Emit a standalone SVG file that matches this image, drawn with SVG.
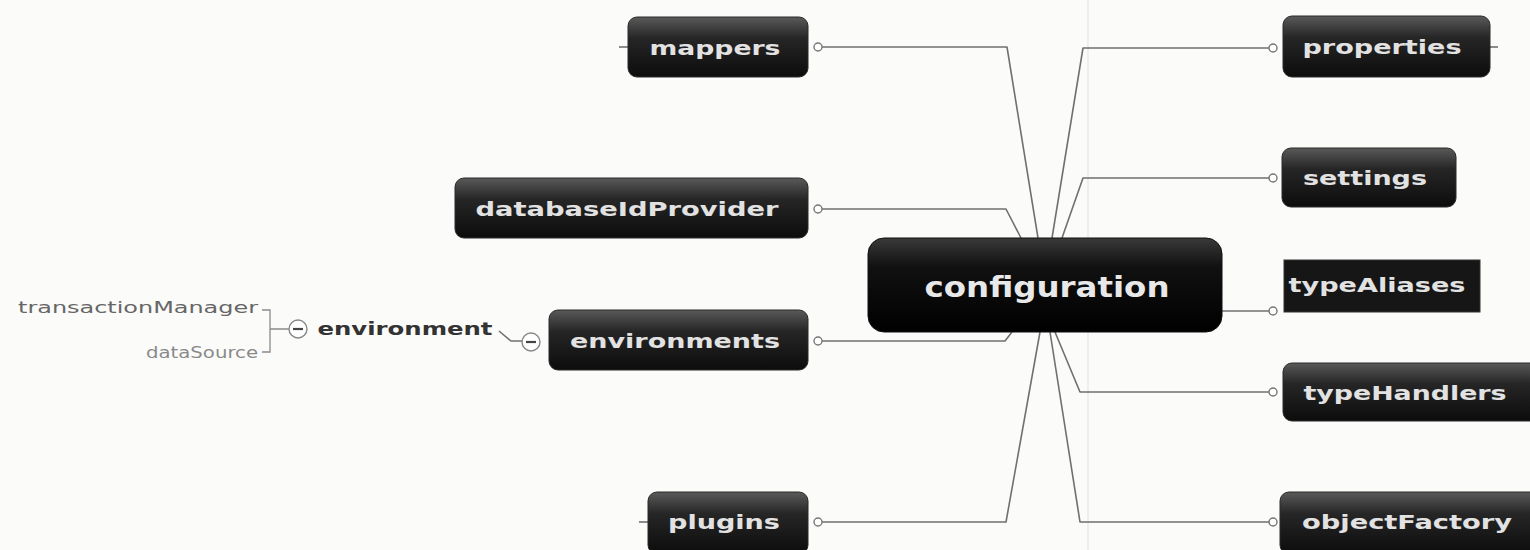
<svg xmlns="http://www.w3.org/2000/svg" width="1530" height="550" viewBox="0 0 1530 550">
  <defs>
    <linearGradient id="nodeFill" x1="0" y1="0" x2="0" y2="1">
      <stop offset="0" stop-color="#5a5a5a"/>
      <stop offset="0.35" stop-color="#262626"/>
      <stop offset="1" stop-color="#0c0c0c"/>
    </linearGradient>
    <linearGradient id="rootFill" x1="0" y1="0" x2="0" y2="1">
      <stop offset="0" stop-color="#3a3a3a"/>
      <stop offset="0.3" stop-color="#111"/>
      <stop offset="1" stop-color="#000"/>
    </linearGradient>
    <filter id="soft" x="-5%" y="-10%" width="110%" height="120%">
      <feGaussianBlur stdDeviation="0.8"/>
    </filter>
  </defs>
  <style>
    .box { fill: url(#nodeFill); stroke: #2a2a2a; stroke-width: 1; }
    .root { fill: url(#rootFill); stroke: #111; stroke-width: 1; }
    .label { font-family: "DejaVu Sans", Verdana, sans-serif; font-weight: bold; font-size: 20px; fill: #e2e2e2; text-anchor: middle; dominant-baseline: central; }
    .rootLabel { font-family: "DejaVu Sans", Verdana, sans-serif; font-weight: bold; font-size: 28px; fill: #e8e8e8; text-anchor: middle; dominant-baseline: central; }
    .link { fill: none; stroke: #707070; stroke-width: 1.6; stroke-linejoin: round; }
    .end { fill: #fff; stroke: #777; stroke-width: 1.4; }
    .fold { fill: #fff; stroke: #888; stroke-width: 1.4; }
    .minus { stroke: #444; stroke-width: 2.2; }
    .sub { font-family: "DejaVu Sans", Verdana, sans-serif; font-size: 16px; dominant-baseline: central; text-anchor: end; }
  </style>

  <!-- page background -->
  <rect width="1530" height="550" fill="#fbfbfa"/>
  <line x1="1088" y1="0" x2="1088" y2="550" stroke="#e6e6e6" stroke-width="1.2"/>

  <!-- branch connectors -->
  <g id="connectors">
    <path class="link" d="M822,47 H1007 L1038,238"/>
    <path class="link" d="M822,209 H1006 L1021,238"/>
    <path class="link" d="M822,341 H1005 L1012,332"/>
    <path class="link" d="M822,522 H1006 L1040,332"/>
    <path class="link" d="M1269,48 H1083 L1052,238"/>
    <path class="link" d="M1269,178 H1083 L1062,238"/>
    <path class="link" d="M1215,311 H1269"/>
    <path class="link" d="M1269,392 H1080 L1055,332"/>
    <path class="link" d="M1269,522 H1080 L1050,332"/>
    <!-- stubs of collapsed branches -->
    <path class="link" d="M619,47 H628"/>
    <path class="link" d="M639,522 H648"/>
    <path class="link" d="M1490,47 H1498"/>
    <!-- end points -->
    <circle class="end" cx="818" cy="47" r="4"/>
    <circle class="end" cx="818" cy="209" r="4"/>
    <circle class="end" cx="818" cy="341" r="4"/>
    <circle class="end" cx="818" cy="522" r="4"/>
    <circle class="end" cx="1273" cy="48" r="4"/>
    <circle class="end" cx="1273" cy="178" r="4"/>
    <circle class="end" cx="1273" cy="311" r="4"/>
    <circle class="end" cx="1273" cy="392" r="4"/>
    <circle class="end" cx="1273" cy="522" r="4"/>
  </g>

  <!-- central topic -->
  <g id="configuration">
    <rect class="root" x="868" y="238" width="354" height="94" rx="16"/>
    <text class="rootLabel" x="1047" y="287" textLength="245" lengthAdjust="spacingAndGlyphs">configuration</text>
  </g>

  <!-- left branches -->
  <g id="mappers">
    <rect class="box" x="628" y="17" width="180" height="60" rx="9"/>
    <text class="label" x="715" y="48" textLength="131" lengthAdjust="spacingAndGlyphs">mappers</text>
  </g>
  <g id="databaseIdProvider">
    <rect class="box" x="455" y="178" width="353" height="60" rx="9"/>
    <text class="label" x="627" y="209" textLength="303" lengthAdjust="spacingAndGlyphs">databaseIdProvider</text>
  </g>
  <g id="environments">
    <rect class="box" x="549" y="310" width="259" height="60" rx="9"/>
    <text class="label" x="675" y="341" textLength="210" lengthAdjust="spacingAndGlyphs">environments</text>
  </g>
  <g id="plugins">
    <rect class="box" x="648" y="492" width="160" height="62" rx="9"/>
    <text class="label" x="724" y="522" textLength="112" lengthAdjust="spacingAndGlyphs">plugins</text>
  </g>

  <!-- right branches -->
  <g id="properties">
    <rect class="box" x="1283" y="16" width="207" height="61" rx="9"/>
    <text class="label" x="1382" y="47" textLength="159" lengthAdjust="spacingAndGlyphs">properties</text>
  </g>
  <g id="settings">
    <rect class="box" x="1282" y="148" width="174" height="59" rx="9"/>
    <text class="label" x="1365" y="178" textLength="124" lengthAdjust="spacingAndGlyphs">settings</text>
  </g>
  <g id="typeAliases">
    <rect x="1284" y="260" width="196" height="52" fill="#161616" stroke="#333" stroke-width="1"/>
    <text class="label" x="1377" y="285" textLength="177" lengthAdjust="spacingAndGlyphs">typeAliases</text>
  </g>
  <g id="typeHandlers">
    <rect class="box" x="1283" y="363" width="260" height="58" rx="9"/>
    <text class="label" x="1405" y="393" textLength="203" lengthAdjust="spacingAndGlyphs">typeHandlers</text>
  </g>
  <g id="objectFactory">
    <rect class="box" x="1280" y="492" width="262" height="62" rx="9"/>
    <text class="label" x="1407" y="522" textLength="210" lengthAdjust="spacingAndGlyphs">objectFactory</text>
  </g>

  <!-- expanded sub-branch of environments -->
  <g id="environment">
    <path class="link" d="M499,331 L511,341 H522" stroke="#888"/>
    <circle class="fold" cx="531" cy="342" r="9"/>
    <line class="minus" x1="526" y1="342" x2="536" y2="342"/>
    <text x="405" y="329" font-family="DejaVu Sans, Verdana, sans-serif" font-weight="bold" font-size="17" fill="#333" text-anchor="middle" dominant-baseline="central" textLength="175" lengthAdjust="spacingAndGlyphs">environment</text>
    <circle class="fold" cx="298" cy="329" r="9"/>
    <line class="minus" x1="293" y1="329" x2="303" y2="329"/>
    <path d="M262,310 H270 V352 H262 M270,329 H289" fill="none" stroke="#8a8a8a" stroke-width="1.3"/>
  </g>
  <g id="transactionManager">
    <text class="sub" x="258" y="307" fill="#666" textLength="240" lengthAdjust="spacingAndGlyphs">transactionManager</text>
  </g>
  <g id="dataSource">
    <text class="sub" x="258" y="352" fill="#8a8a8a" textLength="112" lengthAdjust="spacingAndGlyphs">dataSource</text>
  </g>
</svg>
